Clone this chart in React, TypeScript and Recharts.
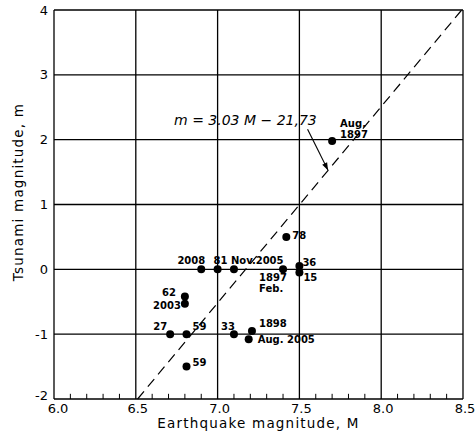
import { ScatterChart, Scatter, XAxis, YAxis, CartesianGrid, ReferenceLine, ReferenceDot, Label } from 'recharts';

// earthquake magnitude M vs tsunami magnitude m
const quakeM = [7.7, 7.42, 6.9, 7.0, 7.1, 7.4, 7.5, 7.5, 6.8, 6.8, 6.71, 6.81, 7.1, 7.21, 7.19, 6.81];
const tsunamiM = [1.98, 0.5, 0, 0, 0, 0, 0.05, -0.05, -0.42, -0.53, -1, -1, -1, -0.95, -1.08, -1.5];
const eventLabels = [
  ['Aug.', '1897'], ['78'], ['2008'], ['81'], ['Nov.2005'], ['1897', 'Feb.'], ['36'], ['15'],
  ['62'], ['2003'], ['27'], ['59'], ['33'], ['1898'], ['Aug. 2005'], ['59'],
];

const xTicks = [6.0, 6.5, 7.0, 7.5, 8.0, 8.5];
const yTicks = [-2, -1, 0, 1, 2, 3, 4];
const minorTicks = [6.1, 6.2, 6.3, 6.4, 6.6, 6.7, 6.8, 6.9, 7.1, 7.2, 7.3, 7.4, 7.6, 7.7, 7.8, 7.9, 8.1, 8.2, 8.3, 8.4];

// fitted line m = 3.03 M - 21.73, end points on the frame
const fitLine = [{ x: 6.511, y: -2 }, { x: 8.492, y: 4 }];
const arrowFrom = { x: 7.55, y: 2.16 };
const arrowTo = { x: 7.675, y: 1.53 };
const eqnAt = { x: 7.17, y: 2.31 };

const FONT = '"DejaVu Sans", sans-serif';

// where each event label sits relative to its dot
const labelPlacement = [
  { dx: 8, dy: -14, anchor: 'start' },
  { dx: 6, dy: 2, anchor: 'start' },
  { dx: 4, dy: -5, anchor: 'end' },
  { dx: -4, dy: -5, anchor: 'start' },
  { dx: -3, dy: -5, anchor: 'start' },
  { dx: -24, dy: 12, anchor: 'start' },
  { dx: 3, dy: 0, anchor: 'start' },
  { dx: 4, dy: 8, anchor: 'start' },
  { dx: -9, dy: -1, anchor: 'end' },
  { dx: -4, dy: 5, anchor: 'end' },
  { dx: -3, dy: -4, anchor: 'end' },
  { dx: 6, dy: -4, anchor: 'start' },
  { dx: -13, dy: -4, anchor: 'start' },
  { dx: 7, dy: -4, anchor: 'start' },
  { dx: 9, dy: 4, anchor: 'start' },
  { dx: 6, dy: -1, anchor: 'start' },
];

const points = quakeM.map((m, i) => ({ x: m, y: tsunamiM[i], idx: i }));

const EventDot = (props: any) => {
  const { cx, cy, payload } = props;
  const i = payload.idx;
  const p = labelPlacement[i];
  return (
    <g>
      <circle cx={cx} cy={cy} r={4} fill="#000" />
      {eventLabels[i].map((t, k) => (
        <text
          key={k}
          x={cx + p.dx}
          y={cy + p.dy + k * 11}
          textAnchor={p.anchor}
          fontFamily={FONT}
          fontWeight="bold"
          fontSize={10}
          fill="#000"
        >
          {t}
        </text>
      ))}
    </g>
  );
};

const ArrowShape = (props: any) => {
  const { x1, y1, x2, y2 } = props;
  const a = Math.atan2(y2 - y1, x2 - x1);
  const L = 8;
  const w = 0.35;
  const p1 = `${x2 - L * Math.cos(a - w)},${y2 - L * Math.sin(a - w)}`;
  const p2 = `${x2 - L * Math.cos(a + w)},${y2 - L * Math.sin(a + w)}`;
  return (
    <g>
      <line x1={x1} y1={y1} x2={x2} y2={y2} stroke="#000" strokeWidth={1.1} />
      <polygon points={`${x2},${y2} ${p1} ${p2}`} fill="#000" />
    </g>
  );
};

const EquationShape = (props: any) => {
  const { cx, cy } = props;
  return (
    <text x={cx} y={cy} textAnchor="middle" dominantBaseline="central" fontFamily={FONT} fontStyle="italic" fontSize={14} fill="#000">
      m = 3.03 M − 21,73
    </text>
  );
};

const XTick = (props: any) => {
  const { x, y, payload } = props;
  const shift = payload.value === 6 ? 4 : 2;
  return (
    <text x={x + shift} y={y} dy="0.71em" textAnchor="middle" fontFamily={FONT} fontSize={13} fill="#000">
      {payload.value.toFixed(1)}
    </text>
  );
};

const YTick = (props: any) => {
  const { x, y, payload } = props;
  const lift = payload.value === -2 ? -4 : 0;
  return (
    <text x={x} y={y + lift} dy="0.355em" textAnchor="end" fontFamily={FONT} fontSize={13} fill="#000">
      {payload.value}
    </text>
  );
};

export default function App() {
  return (
    <div style={{ position: 'absolute', left: 0, top: 0, width: 475, height: 440, background: '#fff' }}>
      <ScatterChart width={475} height={440} margin={{ top: 10, right: 12, bottom: 0, left: 0 }}>
        <CartesianGrid stroke="#000" strokeWidth={1.3} />
        <XAxis
          type="number"
          dataKey="x"
          domain={[6, 8.5]}
          ticks={xTicks}
          tickLine={false}
          axisLine={false}
          tickSize={3}
          height={41}
          tick={<XTick />}
          allowDataOverflow
        >
          <Label
            content={(p: any) => {
              const vb = p.viewBox;
              return (
                <text x={vb.x + vb.width / 2} y={428} textAnchor="middle" fontFamily={FONT} fontSize={13.5} letterSpacing={1.2} fill="#000">
                  Earthquake  magnitude, M
                </text>
              );
            }}
          />
        </XAxis>
        <YAxis
          type="number"
          dataKey="y"
          domain={[-2, 4]}
          ticks={yTicks}
          tickLine={false}
          axisLine={false}
          tickSize={4}
          width={54}
          tick={<YTick />}
          allowDataOverflow
        >
          <Label
            content={() => (
              <text x={0} y={0} transform="translate(23,192) rotate(-90)" textAnchor="middle" fontFamily={FONT} fontSize={13.5} letterSpacing={1.2} fill="#000">
                Tsunami  magnitude, m
              </text>
            )}
          />
        </YAxis>
        {minorTicks.map((t) => (
          <ReferenceLine key={t} segment={[{ x: t, y: -2 }, { x: t, y: -1.92 }]} stroke="#000" strokeWidth={1} />
        ))}
        <ReferenceLine segment={fitLine} stroke="#000" strokeWidth={1.2} strokeDasharray="10 6" />
        <ReferenceLine segment={[arrowFrom, arrowTo]} shape={ArrowShape} />
        <ReferenceDot x={eqnAt.x} y={eqnAt.y} r={0} shape={EquationShape} />
        <Scatter data={points} shape={EventDot} isAnimationActive={false} />
      </ScatterChart>
    </div>
  );
}
